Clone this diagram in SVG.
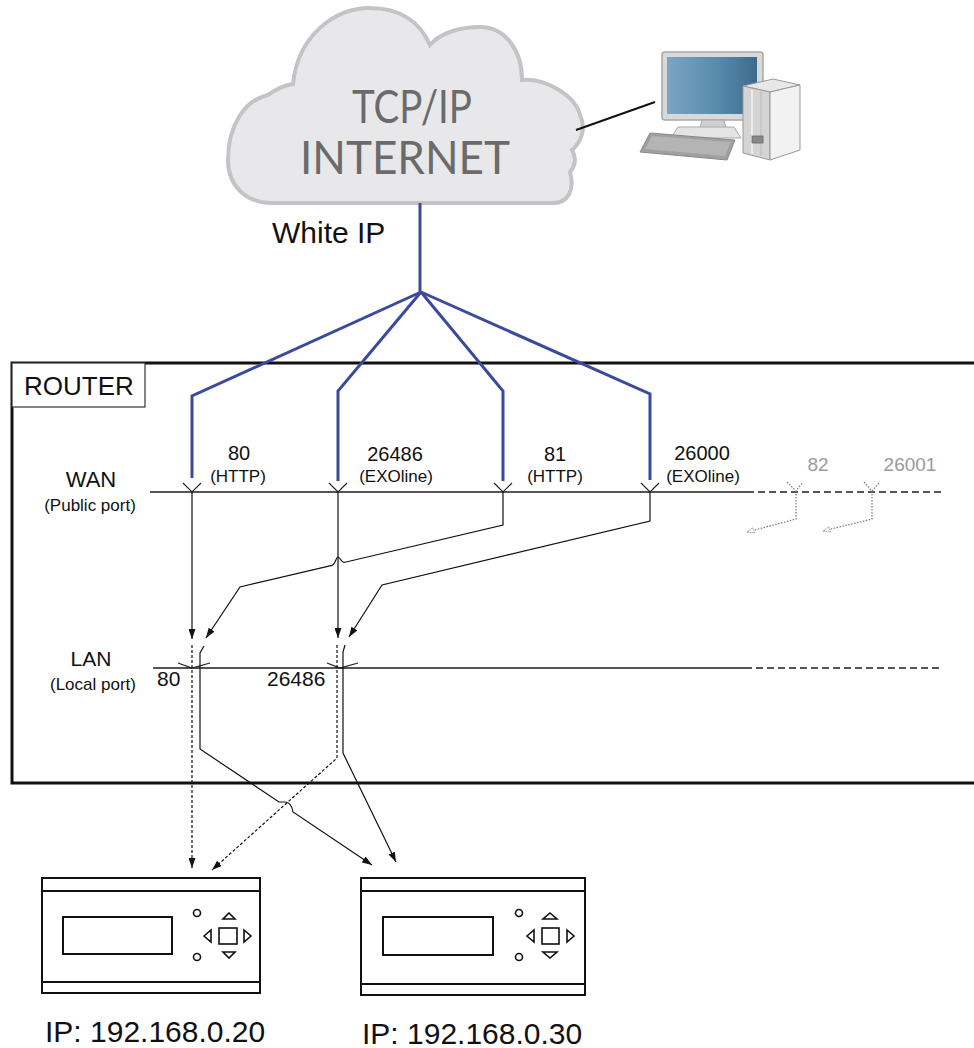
<svg xmlns="http://www.w3.org/2000/svg" width="974" height="1048" viewBox="0 0 974 1048">
  <defs>
    <style>
      text { font-family: "Liberation Sans", Arial, sans-serif; fill: #111; }
      .port { font-size: 20px; text-anchor: middle; }
      .proto { font-size: 17px; text-anchor: middle; }
      .side { font-size: 22px; text-anchor: middle; }
      .sub { font-size: 17px; text-anchor: middle; }
      .ghost { font-size: 19px; text-anchor: middle; fill: #9a9a9a; }
      .ip { font-size: 30px; }
      .cloudtxt { font-family: Lato, "Open Sans", sans-serif; font-size: 46px; fill: #6b6b6b; text-anchor: middle; }
      .blue { fill: none; stroke: #3b4a9b; stroke-width: 3; stroke-linejoin: miter; }
      .bus { fill: none; stroke: #555; stroke-width: 2; }
      .busdash { fill: none; stroke: #555; stroke-width: 2; stroke-dasharray: 7 4; }
      .tick { fill: none; stroke: #222; stroke-width: 1.2; }
      .wire { fill: none; stroke: #111; stroke-width: 1.2; }
      .wiredash { fill: none; stroke: #111; stroke-width: 1.2; stroke-dasharray: 3 2; }
      .dot { fill: none; stroke: #777; stroke-width: 1.2; stroke-dasharray: 1.5 1.5; }
      .dev { fill: #fff; stroke: #111; stroke-width: 2; }
      .devline { fill: none; stroke: #111; stroke-width: 2; }
      .btn { fill: #fff; stroke: #111; stroke-width: 1.6; }
    </style>
    <marker id="arrow" viewBox="0 0 10 7" refX="10" refY="3.5" markerWidth="10" markerHeight="7" markerUnits="userSpaceOnUse" orient="auto">
      <path d="M0,0 L10,3.5 L0,7 z" fill="#111"/>
    </marker>
    <marker id="ghostarrow" viewBox="0 0 10 8" refX="9" refY="4" markerWidth="9" markerHeight="7" markerUnits="userSpaceOnUse" orient="auto">
      <path d="M1,1 L9,4 L1,7 z" fill="#fff" stroke="#777" stroke-width="1" stroke-dasharray="1 1"/>
    </marker>
    <linearGradient id="screen" x1="0" y1="0" x2="1" y2="0">
      <stop offset="0" stop-color="#7aa6c4"/>
      <stop offset="0.6" stop-color="#5688ab"/>
      <stop offset="1" stop-color="#3d6a8c"/>
    </linearGradient>
  </defs>

  <rect width="974" height="1048" fill="#fff"/>

  <!-- Internet cloud -->
  <g id="cloud">
    <path d="M272 203 C245 203 228 185 228 160 C228 125 245 100 268 95 C275 90 285 85 293 84 C298 35 335 8 370 8 C400 8 420 22 430 45 C440 33 460 27 480 27 C505 27 522 50 522 80 C545 78 575 95 580 115 C587 130 580 143 572 150 C578 160 574 167 570 172 C575 190 568 203 553 203 Z" fill="#e8e8ea" stroke="#c4c4c6" stroke-width="4"/>
    <text class="cloudtxt" x="412" y="123" textLength="120" lengthAdjust="spacingAndGlyphs">TCP/IP</text>
    <text class="cloudtxt" x="405" y="174" textLength="210" lengthAdjust="spacingAndGlyphs">INTERNET</text>
  </g>

  <!-- Workstation -->
  <g id="computer">
    <rect x="662" y="52" width="101" height="68" rx="3" fill="#d9d9d9" stroke="#a8a8a8" stroke-width="1.5"/>
    <rect x="667" y="57" width="90" height="57" fill="url(#screen)"/>
    <polygon points="702,120 724,120 726,128 700,128" fill="#cfcfcf" stroke="#aaa"/>
    <polygon points="678,127 734,127 741,138 671,138" fill="#e4e4e4" stroke="#aaa"/>
    <polygon points="650,133 735,140 727,160 640,152" fill="#a0a0a0" stroke="#8a8a8a"/>
    <polygon points="652,136 731,142 725,156 645,149" fill="#b4b4b4"/>
    <polygon points="743,86 773,79 800,85 770,92" fill="#e8e8e8" stroke="#999"/>
    <polygon points="743,86 770,92 770,160 743,153" fill="#d4d4d4" stroke="#999"/>
    <polygon points="770,92 800,85 800,150 770,160" fill="#f2f2f2" stroke="#999"/>
    <line x1="752" y1="90" x2="752" y2="154" stroke="#eee" stroke-width="2"/>
    <line x1="761" y1="92" x2="761" y2="156" stroke="#bbb" stroke-width="1"/>
    <rect x="752" y="136" width="11" height="7" fill="#888" stroke="#666" stroke-width="0.8"/>
  </g>

  <text x="272" y="243" style="font-size:30px">White IP</text>

  <!-- Router enclosure -->
  <g id="router">
    <rect x="12" y="363" width="980" height="420" fill="none" stroke="#111" stroke-width="3"/>
    <rect x="12" y="363" width="133" height="44" fill="#fff" stroke="#333" stroke-width="1.2"/>
    <text x="24" y="395" style="font-size:26px">ROUTER</text>
    <text class="side" x="91" y="487">WAN</text>
    <text class="sub" x="90" y="511">(Public port)</text>
    <text class="side" x="91" y="666" style="font-size:21px">LAN</text>
    <text class="sub" x="93" y="690">(Local port)</text>
  </g>

  <!-- Port labels -->
  <g id="wan-ports">
    <text class="port" x="239" y="460">80</text>
    <text class="proto" x="238" y="482">(HTTP)</text>
    <text class="port" x="395" y="461">26486</text>
    <text class="proto" x="396" y="482">(EXOline)</text>
    <text class="port" x="555" y="461">81</text>
    <text class="proto" x="555" y="482">(HTTP)</text>
    <text class="port" x="702" y="460">26000</text>
    <text class="proto" x="703" y="482">(EXOline)</text>
    <text class="ghost" x="818" y="471">82</text>
    <text class="ghost" x="910" y="471">26001</text>
  </g>
  <g id="lan-ports">
    <text x="157" y="686" style="font-size:21px">80</text>
    <text x="267" y="686" style="font-size:21px">26486</text>
  </g>

  <!-- Connectors -->
  <g id="connectors">
    <!-- uplink and fan-out to public ports -->
    <path class="blue" d="M420 203 V292"/>
    <path class="blue" d="M421 292 L192 396 V478"/>
    <path class="blue" d="M421 292 L338 391 V481"/>
    <path class="blue" d="M421 292 L503 391 V481"/>
    <path class="blue" d="M421 292 L650 394 V480"/>

    <!-- WAN / LAN buses -->
    <path class="bus" d="M150 492 H747"/>
    <path class="busdash" d="M747 492 H943"/>
    <path class="bus" d="M153 668 H745"/>
    <path class="busdash" d="M745 668 H943"/>

    <!-- port ticks -->
    <polyline class="tick" points="183,483 192,492 201,483"/>
    <polyline class="tick" points="329,483 338,492 347,483"/>
    <polyline class="tick" points="494,483 503,492 512,483"/>
    <polyline class="tick" points="641,483 650,492 659,483"/>
    <polyline class="tick" points="178,663 192,668 210,663"/>
    <polyline class="tick" points="327,663 340,668 358,663"/>

    <!-- WAN to LAN forwarding -->
    <path class="wire" d="M192 492 V639" marker-end="url(#arrow)"/>
    <path class="wire" d="M338 492 V638" marker-end="url(#arrow)"/>
    <path class="wire" d="M503 492 V525 L344 562.5 C341 562 340 557 338 557 C336 557 335 565 332 565.3 L240 587 L206 638" marker-end="url(#arrow)"/>
    <path class="wire" d="M650 492 V521 L382 585 L349 637" marker-end="url(#arrow)"/>

    <!-- LAN to devices -->
    <path class="wiredash" d="M192 645 V868" marker-end="url(#arrow)"/>
    <path class="wire" d="M204 646 L200 653 V749 L279 802 L285 802 C290 802 292 806 293 812 L372 865" marker-end="url(#arrow)"/>
    <path class="wiredash" d="M337 645 V758 L212 870" marker-end="url(#arrow)"/>
    <path class="wire" d="M345 645 L343 652 V753 L396 862" marker-end="url(#arrow)"/>

    <!-- unused public ports -->
    <polyline class="dot" points="787,482 796,491 803,482"/>
    <path class="dot" d="M796 491 V519 L747 532" marker-end="url(#ghostarrow)"/>
    <polyline class="dot" points="864,482 872,491 880,482"/>
    <path class="dot" d="M872 491 V519 L823 531" marker-end="url(#ghostarrow)"/>

    <!-- cloud to workstation -->
    <line x1="576" y1="130" x2="655" y2="102" stroke="#111" stroke-width="2"/>
  </g>

  <!-- Controller 192.168.0.20 -->
  <g id="device-20">
    <rect class="dev" x="42" y="878" width="218" height="115"/>
    <line class="devline" x1="42" y1="891" x2="260" y2="891"/>
    <line class="devline" x1="42" y1="982" x2="260" y2="982"/>
    <rect class="dev" x="63" y="917" width="109" height="37"/>
    <circle class="btn" cx="197" cy="913" r="3.5"/>
    <circle class="btn" cx="197" cy="957" r="3.5"/>
    <rect class="btn" x="219" y="928" width="18" height="16"/>
    <polygon class="btn" points="229,913 235,919 223,919"/>
    <polygon class="btn" points="223,952 235,952 229,958"/>
    <polygon class="btn" points="204,936 211,930 211,942"/>
    <polygon class="btn" points="244,930 251,936 244,942"/>
    <text class="ip" x="45" y="1042">IP: 192.168.0.20</text>
  </g>

  <!-- Controller 192.168.0.30 -->
  <g id="device-30">
    <rect class="dev" x="361" y="878" width="224" height="117"/>
    <line class="devline" x1="361" y1="891" x2="585" y2="891"/>
    <line class="devline" x1="361" y1="984" x2="585" y2="984"/>
    <rect class="dev" x="383" y="917" width="110" height="38"/>
    <circle class="btn" cx="519" cy="913" r="3.5"/>
    <circle class="btn" cx="519" cy="957" r="3.5"/>
    <rect class="btn" x="542" y="928" width="17" height="16"/>
    <polygon class="btn" points="550,913 557,919 543,919"/>
    <polygon class="btn" points="543,952 557,952 550,958"/>
    <polygon class="btn" points="527,936 534,930 534,942"/>
    <polygon class="btn" points="567,930 574,936 567,942"/>
    <text class="ip" x="362" y="1044">IP: 192.168.0.30</text>
  </g>
</svg>
